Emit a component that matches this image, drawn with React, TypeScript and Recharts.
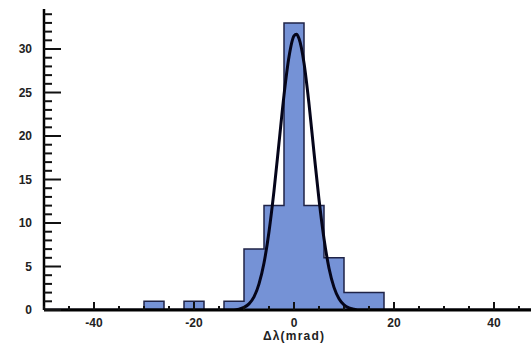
import React from "react";
import {
  ComposedChart,
  Area,
  Line,
  XAxis,
  YAxis,
} from "recharts";

/* ---------- data ---------- */
// histogram: left edge of each 4 mrad bin and its count
const binEdges = [-34, -30, -26, -22, -18, -14, -10, -6, -2, 2, 6, 10, 14, 18];
const binCounts = [0, 1, 0, 1, 0, 1, 7, 12, 33, 12, 6, 2, 2, 0];

// fitted gaussian, points
const fitX = [-50, -12, -11, -10, -9, -8, -7, -6, -5, -4, -3, -2, -1, 0, 0.5, 1, 2, 3, 4, 5, 6, 7, 8, 9, 10, 11, 12, 13, 50];
const fitY = [0, 0, 0.1, 0.3, 0.7, 1.5, 3.0, 5.4, 9.0, 13.7, 19.2, 24.7, 29.1, 31.5, 31.7, 31.2, 28.4, 23.7, 18.1, 12.7, 8.2, 4.8, 2.6, 1.3, 0.6, 0.25, 0.1, 0, 0];

// axes
const xTicks = [-50, -45, -40, -35, -30, -25, -20, -15, -10, -5, 0, 5, 10, 15, 20, 25, 30, 35, 40, 45, 50];
const xLabels = [-40, -20, 0, 20, 40];
const yTicks = [0, 1, 2, 3, 4, 5, 6, 7, 8, 9, 10, 11, 12, 13, 14, 15, 16, 17, 18, 19, 20, 21, 22, 23, 24, 25, 26, 27, 28, 29, 30, 31, 32, 33, 34];
const yLabels = [0, 5, 10, 15, 20, 25, 30];

const histData = binEdges.map((x, i) => ({ x, count: binCounts[i] }));
const fitData = fitX.map((x, i) => ({ x, y: fitY[i] }));

/* ---------- styles ---------- */
const FONT = "'Liberation Sans', Arial, sans-serif";
const Y_TICK_MARGIN = 12;

// y ticks point into the plot
const YTick = (props: any) => {
  const { x, y, payload } = props;
  const v = payload.value;
  const edge = x + Y_TICK_MARGIN;
  const major = yLabels.includes(v);
  return (
    <g>
      <line x1={edge} x2={edge + (major ? 17 : 8)} y1={y} y2={y} stroke="#111" strokeWidth={2} />
      {major && (
        <text x={x} y={y} dy="0.36em" textAnchor="end" fontFamily={FONT} fontWeight="bold" fontSize={12} fill="#222">
          {v}
        </text>
      )}
    </g>
  );
};

const XTick = (props: any) => {
  const { x, y, payload } = props;
  const v = payload.value;
  const major = xLabels.includes(v);
  return (
    <g>
      <line x1={x} x2={x} y1={y} y2={y - (major ? 8 : 4)} stroke="#111" strokeWidth={2} />
      {major && (
        <text x={x} y={y + 17} textAnchor="middle" fontFamily={FONT} fontWeight="bold" fontSize={12} fill="#222">
          {v}
        </text>
      )}
    </g>
  );
};

export default function App() {
  return (
    <div
      style={{
        position: "fixed",
        left: 0,
        top: 0,
        width: 531,
        height: 346,
        overflow: "hidden",
        background: "#fff",
      }}
    >
      <ComposedChart width={550} height={346} margin={{ top: 9, right: 6, bottom: 0, left: 0 }}>
        <Area
          data={histData}
          dataKey="count"
          type="stepAfter"
          stroke="#1f2347"
          strokeWidth={1.5}
          fill="#7592d6"
          fillOpacity={1}
          isAnimationActive={false}
        />
        <Line
          data={fitData}
          dataKey="y"
          type="monotone"
          stroke="#05051a"
          strokeWidth={3}
          dot={false}
          isAnimationActive={false}
        />
        <XAxis
          dataKey="x"
          type="number"
          domain={[-50, 50]}
          ticks={xTicks}
          interval={0}
          height={36}
          tickSize={0}
          tickMargin={0}
          tickLine={false}
          tick={<XTick />}
          axisLine={{ stroke: "#000", strokeWidth: 3 }}
          allowDataOverflow
          label={{
            value: "Δλ(mrad)",
            position: "insideBottom",
            offset: 6,
            style: { fontFamily: FONT, fontWeight: "bold", fontSize: 12, fill: "#222", letterSpacing: 1.2 },
          }}
        />
        <XAxis
          xAxisId="top"
          orientation="top"
          type="number"
          domain={[-50, 50]}
          height={0}
          tick={false}
          tickLine={false}
          axisLine={{ stroke: "#111", strokeWidth: 2 }}
        />
        <YAxis
          type="number"
          domain={[0, 34.6]}
          ticks={yTicks}
          interval={0}
          width={44}
          tickSize={0}
          tickMargin={Y_TICK_MARGIN}
          tickLine={false}
          tick={<YTick />}
          axisLine={{ stroke: "#000", strokeWidth: 2.5 }}
          allowDataOverflow
        />
      </ComposedChart>
    </div>
  );
}
